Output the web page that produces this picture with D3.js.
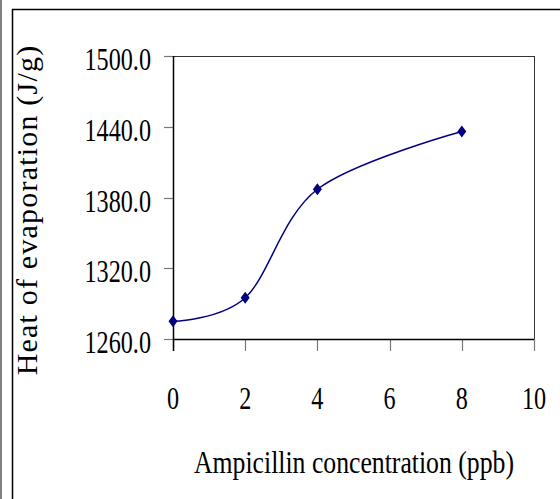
<!DOCTYPE html>
<html><head><meta charset="utf-8">
<script src="https://cdn.jsdelivr.net/npm/d3@7"></script>
<style>html,body{margin:0;padding:0;background:#fff;}svg{display:block;}
text{font-family:"Liberation Serif","Times New Roman","DejaVu Serif",serif;}</style>
</head><body>
<svg id="c" width="560" height="499"></svg>
<script>
const concentrations = [0, 2, 4, 8];
const heatValues = [1275, 1295, 1387, 1436];
const xTicks = [0, 2, 4, 6, 8, 10];
const yTicks = [1260, 1320, 1380, 1440, 1500];
const xTitle = "Ampicillin concentration (ppb)";
const yTitle = "Heat of evaporation (J/g)";

const svg = d3.select("#c");
const m = {left:173, right:534, top:56, bottom:339};
const x = d3.scaleLinear().domain([0,10]).range([m.left, m.right]);
const y = d3.scaleLinear().domain([1260,1500]).range([m.bottom, m.top]);

// outer frame
svg.append("line").attr("x1",1).attr("x2",1).attr("y1",0).attr("y2",499).attr("stroke","#808080").attr("stroke-width",2);
svg.append("line").attr("x1",12.5).attr("x2",12.5).attr("y1",9).attr("y2",499).attr("stroke","#000").attr("stroke-width",1.5);
svg.append("line").attr("x1",12).attr("x2",560).attr("y1",9.5).attr("y2",9.5).attr("stroke","#000").attr("stroke-width",1.5);

// plot box top/right
svg.append("line").attr("x1",m.left).attr("x2",m.right).attr("y1",m.top+0.5).attr("y2",m.top+0.5).attr("stroke","#333");
svg.append("line").attr("x1",m.right+0.5).attr("x2",m.right+0.5).attr("y1",m.top).attr("y2",m.bottom+12).attr("stroke","#333");

// y axis ticks
svg.append("g").selectAll("line").data(yTicks).join("line")
  .attr("x1",m.left-9).attr("x2",m.left).attr("y1",d=>Math.round(y(d))+0.5).attr("y2",d=>Math.round(y(d))+0.5)
  .attr("stroke","#777").attr("stroke-width",1.2);
svg.append("g").selectAll("text").data(yTicks).join("text")
  .attr("transform",d=>`translate(151,${y(d)+14}) scale(0.78,1)`)
  .attr("text-anchor","end").attr("font-size",31).attr("fill","#000")
  .text(d=>d.toFixed(1));

// x axis ticks
svg.append("g").selectAll("line").data(xTicks).join("line")
  .attr("x1",d=>Math.round(x(d))+0.5).attr("x2",d=>Math.round(x(d))+0.5).attr("y1",m.bottom).attr("y2",m.bottom+12)
  .attr("stroke","#777").attr("stroke-width",1.2);
svg.append("g").selectAll("text").data(xTicks).join("text")
  .attr("transform",d=>`translate(${x(d)},409) scale(0.78,1)`)
  .attr("text-anchor","middle").attr("font-size",31).attr("fill","#000")
  .text(d=>d);

// axis lines
svg.append("line").attr("x1",m.left+0.5).attr("x2",m.left+0.5).attr("y1",m.top).attr("y2",m.bottom+12).attr("stroke","#000").attr("stroke-width",1.5);
svg.append("line").attr("x1",m.left).attr("x2",m.right).attr("y1",m.bottom+0.5).attr("y2",m.bottom+0.5).attr("stroke","#000").attr("stroke-width",1.5);

// titles
svg.append("text").attr("transform","translate(354,473) scale(0.83,1)").attr("text-anchor","middle")
  .attr("font-size",31).attr("fill","#000")
  .text(xTitle);
svg.append("text").attr("transform","translate(37,210) rotate(-90)").attr("text-anchor","middle")
  .attr("font-size",30).attr("letter-spacing",1.2).attr("fill","#000")
  .text(yTitle);

// line
const data = concentrations.map((c,i)=>({c, v:heatValues[i]}));
svg.append("path").datum(data)
  .attr("d", d3.line().x(d=>x(d.c)).y(d=>y(d.v)).curve(d3.curveCardinal.tension(0)))
  .attr("fill","none").attr("stroke","#000080").attr("stroke-width",1.5);
svg.append("g").selectAll("path").data(data).join("path")
  .attr("transform",d=>`translate(${x(d.c)},${y(d.v)})`)
  .attr("d","M0,-6L4.5,0L0,6L-4.5,0Z").attr("fill","#000080");
</script>
</body></html>
